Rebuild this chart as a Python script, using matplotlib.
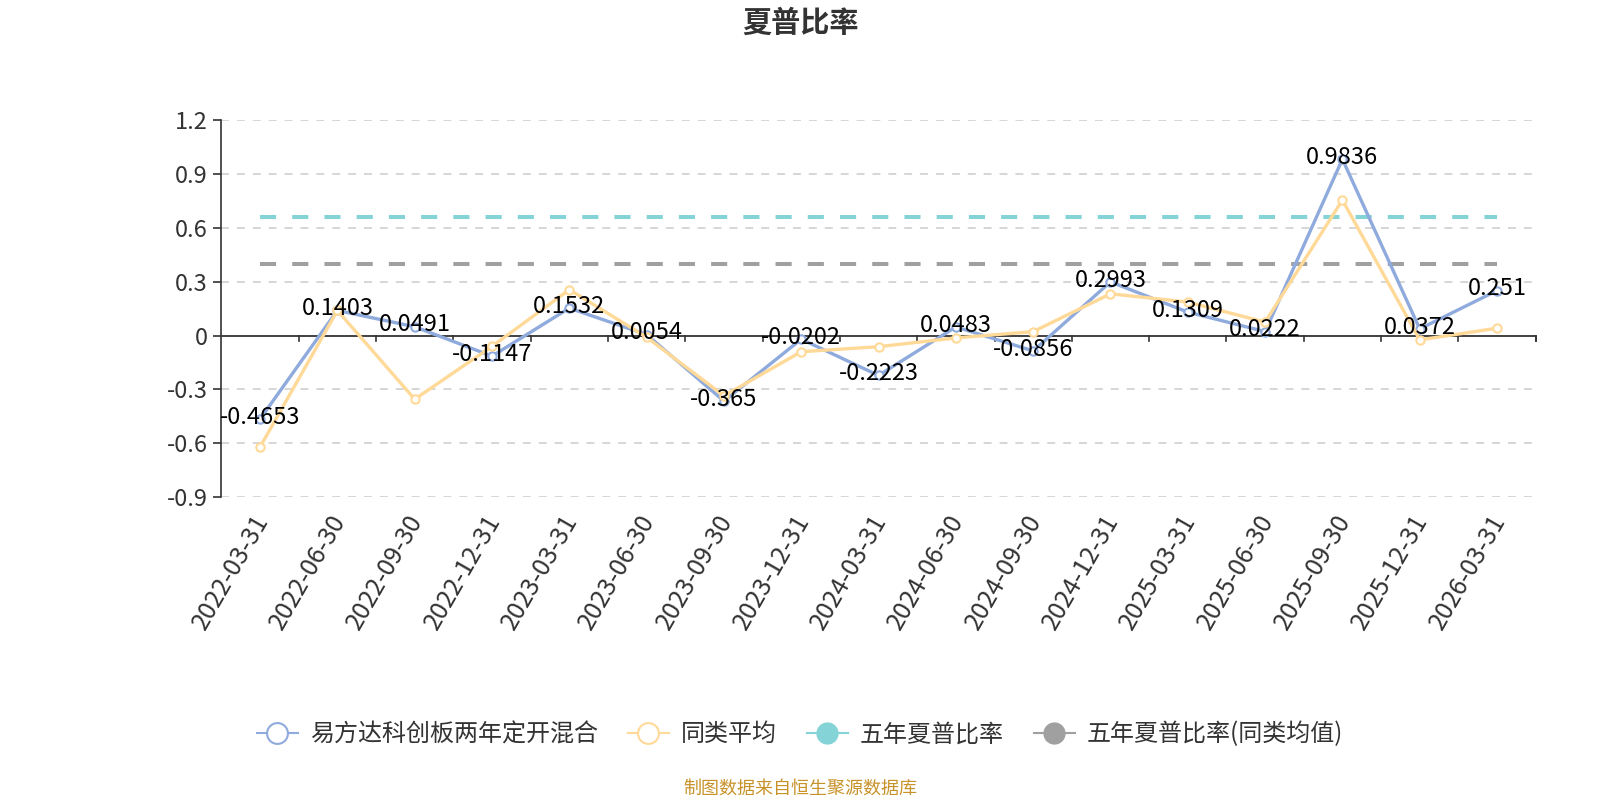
import matplotlib
matplotlib.use("Agg")
import matplotlib.pyplot as plt
from matplotlib.lines import Line2D
import numpy as np

plt.rcParams['font.family'] = ['Noto Sans CJK SC', 'DejaVu Sans']
plt.rcParams['axes.unicode_minus'] = False

# data
dates = ["2022-03-31", "2022-06-30", "2022-09-30", "2022-12-31",
         "2023-03-31", "2023-06-30", "2023-09-30", "2023-12-31",
         "2024-03-31", "2024-06-30", "2024-09-30", "2024-12-31",
         "2025-03-31", "2025-06-30", "2025-09-30", "2025-12-31",
         "2026-03-31"]
fund_sharpe = [-0.4653, 0.1403, 0.0491, -0.1147, 0.1532, 0.0054, -0.365, -0.0202,
               -0.2223, 0.0483, -0.0856, 0.2993, 0.1309, 0.0222, 0.9836, 0.0372,
               0.251]
peer_avg = [-0.621, 0.140, -0.355, -0.060, 0.256, -0.009, -0.336, -0.090,
            -0.062, -0.013, 0.022, 0.233, 0.187, 0.075, 0.756, -0.024, 0.041]
five_year_fund = 0.664
five_year_peer = 0.401
yticks = [-0.9, -0.6, -0.3, 0, 0.3, 0.6, 0.9, 1.2]

BLUE = '#8FAADC'
YELLOW = '#FFD997'
CYAN = '#84D3D6'
GRAY = '#A0A0A0'

fig = plt.figure(figsize=(16, 8), dpi=100)
ax = fig.add_axes([0.1384, 0.3788, 0.8214, 0.4707])

x = np.arange(len(dates))
ax.set_xlim(-0.5, len(dates) - 0.5)
ax.set_ylim(-0.9, 1.2)

# grid
for t in yticks:
    if t != 0:
        ax.axhline(t, color='#cccccc', lw=1.1, ls=(0, (5.2, 5.2)), zorder=0)
ax.axhline(0, color='#333333', lw=1.3, zorder=1)
for b in np.arange(0.5, len(dates) - 0.5 + 1e-9, 1.0):
    ax.plot([b, b], [0, -0.03], color='#333333', lw=1.2, zorder=1, clip_on=False)
ax.plot([len(dates) - 0.5] * 2, [0, -0.03], color='#333333', lw=1.2, clip_on=False)

# five-year reference lines
ax.plot([x[0], x[-1]], [five_year_fund] * 2, color=CYAN, lw=2.9, ls=(0, (4, 4)), zorder=2)
ax.plot([x[0], x[-1]], [five_year_peer] * 2, color=GRAY, lw=2.9, ls=(0, (4, 4)), zorder=2)

ax.plot(x, fund_sharpe, color=BLUE, lw=2.4, marker='o', ms=6, mfc='white',
        mec=BLUE, mew=1.5, zorder=3)
ax.plot(x, peer_avg, color=YELLOW, lw=2.4, marker='o', ms=6, mfc='white',
        mec=YELLOW, mew=1.5, zorder=4)

for xi, v in zip(x, fund_sharpe):
    ax.text(xi, v + 0.01, f"{v:g}", ha='center', va='center', fontsize=17,
            color='black', zorder=5)

ax.set_yticks(yticks)
ax.set_yticklabels([f"{t:g}" for t in yticks], fontsize=17, color='#333333')
ax.set_xticks(x)
ax.set_xticklabels(dates, rotation=60, ha='right', va='center_baseline',
                   rotation_mode='anchor', fontsize=18, color='#333333')
ax.tick_params(axis='x', length=0, pad=13)
ax.tick_params(axis='y', length=6, width=1.2, color='#333333', pad=4)
for s in ['top', 'right', 'bottom']:
    ax.spines[s].set_visible(False)
ax.spines['left'].set_color('#333333')
ax.spines['left'].set_linewidth(1.2)

fig.text(0.5, 0.972, "夏普比率", ha='center', va='center', fontsize=21,
         fontweight='bold', color='#333333')

handles = [
    Line2D([], [], color=BLUE, lw=1.5, marker='o', ms=15, mfc='white', mec=BLUE, mew=1.5),
    Line2D([], [], color=YELLOW, lw=1.5, marker='o', ms=15, mfc='white', mec=YELLOW, mew=1.5),
    Line2D([], [], color=CYAN, lw=1.5, marker='o', ms=15, mfc=CYAN, mec=CYAN),
    Line2D([], [], color=GRAY, lw=1.5, marker='o', ms=15, mfc=GRAY, mec=GRAY),
]
labels = ["易方达科创板两年定开混合", "同类平均", "五年夏普比率", "五年夏普比率(同类均值)"]
fig.legend(handles, labels, loc='center', bbox_to_anchor=(0.5, 0.082), ncol=4,
           frameon=False, fontsize=17.3, handlelength=1.7, columnspacing=1.25,
           handletextpad=0.5, labelcolor='#333333')

fig.text(0.5, 0.014, "制图数据来自恒生聚源数据库", ha='center', va='center',
         fontsize=13, color='#C8922A')

fig.savefig("out.png", dpi=100)
